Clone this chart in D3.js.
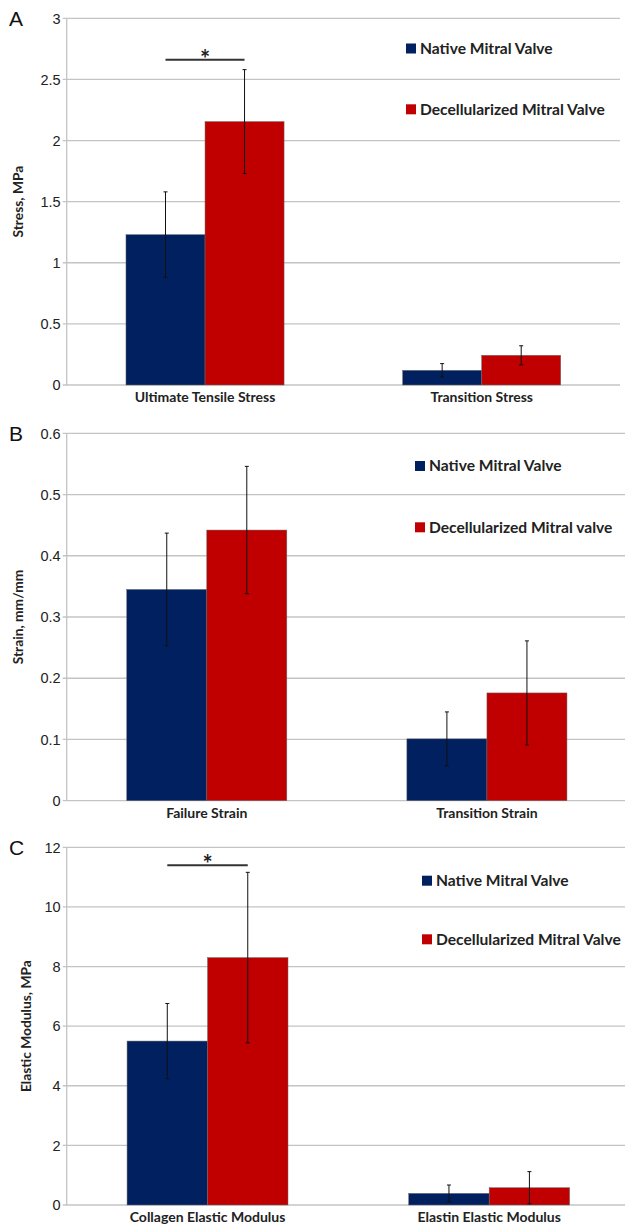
<!DOCTYPE html>
<html>
<head>
<meta charset="utf-8">
<script src="https://cdn.jsdelivr.net/npm/d3@7"></script>
<style>
  body { margin: 0; background: #fff; }
  svg { display: block; }
  .tick-label { font-family: "Liberation Sans", Arial, sans-serif; font-size: 14.5px; fill: #222; }
  .cat-label { font-family: Lato, "Open Sans", sans-serif; font-weight: bold; font-size: 14px; fill: #222; }
  .axis-title { font-family: Lato, "Open Sans", sans-serif; font-weight: bold; font-size: 13.8px; fill: #222; }
  .legend-text { font-family: Lato, "Open Sans", sans-serif; font-weight: bold; font-size: 15.6px; fill: #222; }
  .panel-letter { font-family: "Liberation Sans", Arial, sans-serif; font-size: 21px; fill: #111; }
</style>
</head>
<body>
<svg id="viz" width="625" height="1231"></svg>
<script>
var series = ["Native Mitral Valve", "Decellularized Mitral Valve"];
var colors = ["#00205f", "#c00000"];

// panel A
var catsA = ["Ultimate Tensile Stress", "Transition Stress"];
var nativeA = [1.23, 0.12];
var nativeErrA = [0.35, 0.055];
var decelA = [2.155, 0.243];
var decelErrA = [0.425, 0.078];
var ticksA = [0, 0.5, 1, 1.5, 2, 2.5, 3];
var sigA = 2.66;

// panel B
var catsB = ["Failure Strain", "Transition Strain"];
var nativeB = [0.345, 0.101];
var nativeErrB = [0.092, 0.044];
var decelB = [0.442, 0.176];
var decelErrB = [0.104, 0.085];
var ticksB = [0, 0.1, 0.2, 0.3, 0.4, 0.5, 0.6];
var legendB = ["Native Mitral Valve", "Decellularized Mitral valve"];

// panel C
var catsC = ["Collagen Elastic Modulus", "Elastin Elastic Modulus"];
var nativeC = [5.5, 0.39];
var nativeErrC = [1.26, 0.28];
var decelC = [8.3, 0.58];
var decelErrC = [2.86, 0.54];
var ticksC = [0, 2, 4, 6, 8, 10, 12];
var sigC = 11.4;

var svg = d3.select("#viz");

function panel(opt) {
    var g = svg.append("g");
    var y = d3.scaleLinear()
        .domain([0, opt.ticks[opt.ticks.length - 1]])
        .range([opt.bottom, opt.top]);
    var x0 = d3.scaleBand().domain(opt.cats).range([opt.left, opt.right]);
    var x1 = d3.scaleBand().domain(series).range([0, x0.bandwidth()]).paddingOuter(0.75);

    // gridlines + tick labels
    g.selectAll("line.grid").data(opt.ticks).enter()
        .append("line")
        .attr("x1", opt.left - 4)
        .attr("x2", opt.right)
        .attr("y1", function (d) { return y(d); })
        .attr("y2", function (d) { return y(d); })
        .style("stroke", "#c4c4c4")
        .style("stroke-width", 1.3);

    g.append("line")
        .attr("x1", opt.left).attr("x2", opt.left)
        .attr("y1", y.range()[1]).attr("y2", y.range()[0])
        .style("stroke", "#c4c4c4")
        .style("stroke-width", 1.3);

    g.selectAll("text.tick-label").data(opt.ticks).enter()
        .append("text")
        .attr("class", "tick-label")
        .attr("x", opt.left - 6)
        .attr("y", function (d) { return y(d); })
        .attr("dy", "0.36em")
        .style("text-anchor", "end")
        .text(function (d) { return d3.format("")(d); });

    var rows = [];
    opt.cats.forEach(function (c, i) {
        rows.push({ cat: c, s: series[0], v: opt.nat[i], e: opt.natErr[i], col: colors[0] });
        rows.push({ cat: c, s: series[1], v: opt.dec[i], e: opt.decErr[i], col: colors[1] });
    });

    g.selectAll("rect.bar").data(rows).enter()
        .append("rect")
        .attr("x", function (d) { return x0(d.cat) + x1(d.s); })
        .attr("y", function (d) { return y(d.v); })
        .attr("width", x1.bandwidth())
        .attr("height", function (d) { return y(0) - y(d.v); })
        .style("fill", function (d) { return d.col; })
        .style("stroke", "#6a6a6a")
        .style("stroke-width", 0.5);

    // error bars
    rows.forEach(function (d) {
        var cx = x0(d.cat) + x1(d.s) + x1.bandwidth() / 2;
        g.append("line")
            .attr("x1", cx).attr("x2", cx)
            .attr("y1", y(d.v + d.e)).attr("y2", y(Math.max(0, d.v - d.e)))
            .style("stroke", "#111").style("stroke-width", 1);
        [d.v + d.e, Math.max(0, d.v - d.e)].forEach(function (val) {
            g.append("line")
                .attr("x1", cx - 2).attr("x2", cx + 2)
                .attr("y1", y(val)).attr("y2", y(val))
                .style("stroke", "#111").style("stroke-width", 1);
        });
    });

    // category labels
    g.selectAll("text.cat-label").data(opt.cats).enter()
        .append("text")
        .attr("class", "cat-label")
        .attr("x", function (d) { return x0(d) + x0.bandwidth() / 2; })
        .attr("y", opt.bottom + 17)
        .style("text-anchor", "middle")
        .text(function (d) { return d; });

    // y axis title
    g.append("text")
        .attr("class", "axis-title")
        .attr("transform", "translate(" + opt.titleX + "," + (opt.top + opt.bottom) / 2 + ") rotate(-90)")
        .attr("dy", "0.35em")
        .style("text-anchor", "middle")
        .text(opt.title);

    // panel letter
    g.append("text")
        .attr("class", "panel-letter")
        .attr("x", 9)
        .attr("y", opt.top + 8)
        .text(opt.letter);

    // legend
    opt.legend.forEach(function (name, i) {
        var ly = opt.legendY[i];
        g.append("rect")
            .attr("x", opt.legendX)
            .attr("y", ly - 5)
            .attr("width", 10)
            .attr("height", 10)
            .style("fill", colors[i]);
        g.append("text")
            .attr("class", "legend-text")
            .attr("x", opt.legendX + 14)
            .attr("y", ly)
            .attr("dy", "0.35em")
            .text(name);
    });

    // significance marker
    if (opt.sig !== undefined) {
        var c = opt.cats[0];
        var xa = x0(c) + x1(series[0]) + x1.bandwidth() / 2;
        var xb = x0(c) + x1(series[1]) + x1.bandwidth() / 2;
        g.append("line")
            .attr("x1", xa).attr("x2", xb)
            .attr("y1", y(opt.sig)).attr("y2", y(opt.sig))
            .style("stroke", "#333").style("stroke-width", 2);
        g.append("text")
            .attr("x", (xa + xb) / 2)
            .attr("y", y(opt.sig) + 8)
            .style("text-anchor", "middle")
            .style("font-family", "Lato, sans-serif")
            .style("font-weight", "bold")
            .style("font-size", "24px")
            .style("fill", "#222")
            .text("*");
    }
}

panel({
    letter: "A", cats: catsA, nat: nativeA, natErr: nativeErrA, dec: decelA, decErr: decelErrA,
    ticks: ticksA, top: 18.3, bottom: 385, left: 66.7, right: 620,
    title: "Stress, MPa", titleX: 18, sig: sigA,
    legend: series, legendX: 406, legendY: [48.5, 109.3]
});

panel({
    letter: "B", cats: catsB, nat: nativeB, natErr: nativeErrB, dec: decelB, decErr: decelErrB,
    ticks: ticksB, top: 433.3, bottom: 800.7, left: 66.7, right: 627,
    title: "Strain, mm/mm", titleX: 18,
    legend: legendB, legendX: 415, legendY: [466, 527.3]
});

panel({
    letter: "C", cats: catsC, nat: nativeC, natErr: nativeErrC, dec: decelC, decErr: decelErrC,
    ticks: ticksC, top: 847.3, bottom: 1205, left: 66.7, right: 630,
    title: "Elastic Modulus, MPa", titleX: 26, sig: sigC,
    legend: series, legendX: 422, legendY: [880.7, 939.3]
});
</script>
</body>
</html>
